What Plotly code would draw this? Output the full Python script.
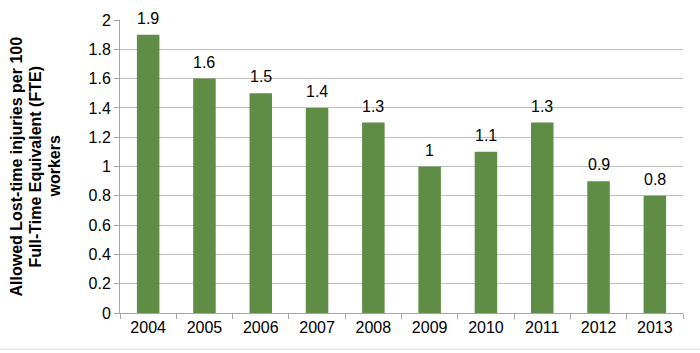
import plotly.graph_objects as go

years = ["2004", "2005", "2006", "2007", "2008", "2009", "2010", "2011", "2012", "2013"]
values = [1.9, 1.6, 1.5, 1.4, 1.3, 1.0, 1.1, 1.3, 0.9, 0.8]
labels = ["1.9", "1.6", "1.5", "1.4", "1.3", "1", "1.1", "1.3", "0.9", "0.8"]
ytick_vals = [0, 0.2, 0.4, 0.6, 0.8, 1, 1.2, 1.4, 1.6, 1.8, 2]
ytick_text = ["0", "0.2", "0.4", "0.6", "0.8", "1", "1.2", "1.4", "1.6", "1.8", "2"]
ytitle_lines = ["Allowed Lost-time injuries per 100", "Full-Time Equivalent (FTE)", "workers"]

font = "Liberation Sans, Arial, sans-serif"
fs = 16
ML, MR = 120, 17
PW = 700 - ML - MR

fig = go.Figure(go.Bar(
    x=years, y=values,
    marker=dict(color="#5f8d45", line=dict(width=0)),
    cliponaxis=False, width=0.4,
))

annotations = [dict(
    x=i, y=yv, text=t, xref="x", yref="y", showarrow=False,
    xanchor="center", yanchor="bottom", yshift=6,
    font=dict(family=font, size=fs, color="#000000"),
) for i, (yv, t) in enumerate(zip(values, labels))]

title_x_px = [16, 35, 54]
for s, px in zip(ytitle_lines, title_x_px):
    annotations.append(dict(
        text="<b>%s</b>" % s, textangle=-90, xref="paper", yref="paper",
        x=(px - ML) / PW, y=0.5, xanchor="center", yanchor="middle",
        showarrow=False, font=dict(family=font, size=fs, color="#000000"),
    ))

fig.update_layout(
    width=700, height=353,
    margin=dict(l=ML, r=MR, t=18, b=40),
    paper_bgcolor="white", plot_bgcolor="white",
    showlegend=False,
    font=dict(family=font, size=fs, color="#000000"),
    xaxis=dict(
        type="category",
        showline=True, linecolor="#a6a6a6", linewidth=1,
        ticks="outside", tickson="boundaries", ticklen=5, tickcolor="#a6a6a6",
        tickfont=dict(family=font, size=fs, color="#000000"),
        showgrid=False,
    ),
    yaxis=dict(
        range=[0, 2], tickvals=ytick_vals, ticktext=ytick_text,
        showline=True, linecolor="#a6a6a6", linewidth=1,
        ticks="outside", ticklen=5, tickcolor="#a6a6a6",
        showgrid=True, gridcolor="#bfbfbf", gridwidth=1,
        zeroline=False,
        tickfont=dict(family=font, size=fs, color="#000000"),
    ),
    annotations=annotations,
    shapes=[dict(type="line", xref="paper", yref="paper", x0=-0.22, x1=1.04,
                 y0=-0.123, y1=-0.123, line=dict(color="#e0e0e0", width=1))],
)

fig.write_html("out.html")
